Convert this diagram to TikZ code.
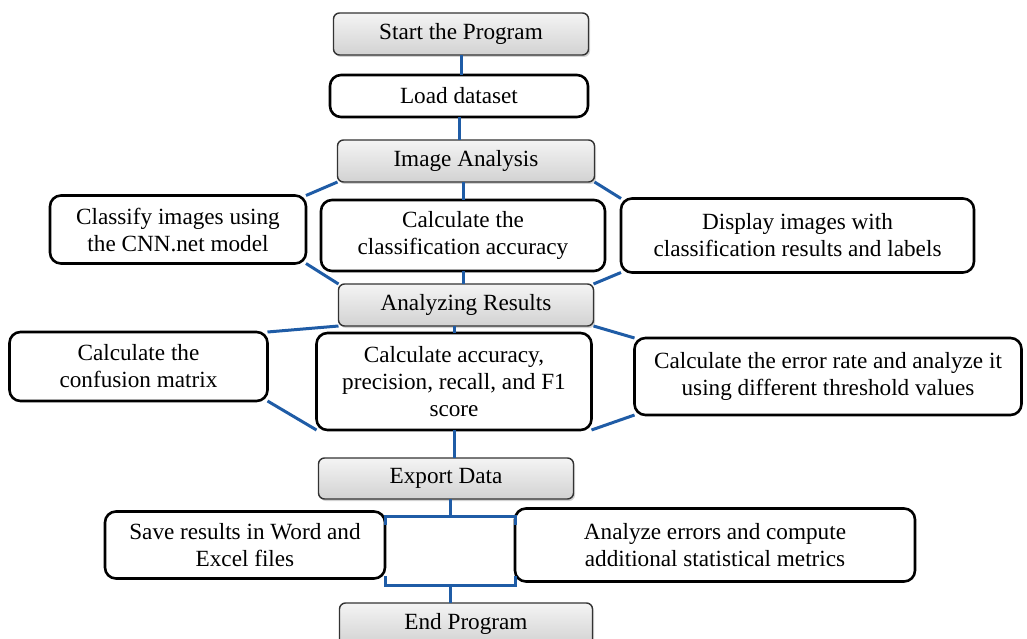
\documentclass[tikz,border=0pt]{standalone}
\usepackage{fontspec}
\setmainfont{Liberation Serif}
\usetikzlibrary{positioning,shadows}
\definecolor{linkblue}{HTML}{1F5CA6}
\definecolor{boxgray}{HTML}{D2D2D2}
\definecolor{topgray}{HTML}{F4F4F4}

\begin{document}
\begin{tikzpicture}[node distance=20pt and 15pt,font=\fontsize{23.2}{27}\selectfont]
\tikzset{box/.style={draw=black,line width=2.6pt,rounded corners=11pt,fill=white,align=center,inner sep=2pt,outer sep=0pt},
  gbox/.style={draw=black!80,line width=1.4pt,rounded corners=6pt,top color=topgray,bottom color=boxgray,minimum width=255pt,minimum height=42pt,align=center,outer sep=0pt,drop shadow={shadow xshift=1.5pt,shadow yshift=-2pt,opacity=0.35}},
  link/.style={draw=linkblue,line width=3pt}}
\useasboundingbox (-461pt,34pt) rectangle (566pt,-605pt);
\node[gbox] (start) {Start the Program};
\node[box,below=20pt of start,xshift=-2pt,minimum width=258pt,minimum height=42pt] (load) {Load dataset};
\node[gbox,below=23pt of load,xshift=7pt,minimum width=257pt] (img) {Image Analysis};
\node[box,below=18pt of img,xshift=-3pt,minimum width=284pt,minimum height=71pt] (calc) {Calculate the\\classification accuracy};
\node[box,left=15pt of calc,yshift=6pt,minimum width=256pt,minimum height=68pt] (classify) {Classify images using\\the CNN.net model};
\node[box,right=16pt of calc,minimum width=353pt,minimum height=74pt] (display) {Display images with\\classification results and labels};
\node[gbox,below=13pt of calc,xshift=3pt] (ares) {Analyzing Results};
\node[box,below=7pt of ares,xshift=-12pt,minimum width=275pt,minimum height=97pt] (acc) {Calculate accuracy,\\precision, recall, and F1\\score};
\node[box,left=49pt of acc,yshift=15pt,minimum width=258pt,minimum height=69pt] (conf) {Calculate the\\confusion matrix};
\node[box,right=43pt of acc,yshift=5pt,minimum width=387pt,minimum height=77pt] (err) {Calculate the error rate and analyze it\\using different threshold values};
\node[gbox,below=28pt of acc,xshift=-8pt,minimum height=41pt] (export) {Export Data};
\coordinate[below=46pt of export,xshift=4pt] (mid);
\coordinate[above=29pt of mid] (jt);
\coordinate[below=40pt of mid] (jb);
\node[box,left=65pt of mid,minimum width=280pt,minimum height=67pt] (save) {Save results in Word and\\Excel files};
\node[box,right=65pt of mid,minimum width=400pt,minimum height=73pt] (analyze) {Analyze errors and compute\\additional statistical metrics};
\node[gbox,below=18pt of jb,xshift=16pt,minimum width=253pt] (endp) {End Program};
% main column
\draw[link] (start.south) -- (start.south |- load.north);
\draw[link] (load.south) -- (load.south |- img.north);
\draw[link] (calc.north) -- (calc.north |- img.south);
\draw[link] (calc.south) -- (calc.south |- ares.north);
\draw[link] (acc.north) -- (acc.north |- ares.south);
\draw[link] (acc.south) -- (acc.south |- export.north);
\draw[link] (jt) -- (jt |- export.south);
\draw[link] (jb) -- (jb |- endp.north);
% side branches
\draw[link] (img.south west) -- (classify.north east);
\draw[link] (img.south east) -- (display.north west);
\draw[link] (classify.south east) -- (ares.north west);
\draw[link] (display.south west) -- (ares.north east);
\draw[link] (ares.south west) -- (conf.north east);
\draw[link] (ares.south east) -- (err.north west);
\draw[link] (conf.south east) -- (acc.south west);
\draw[link] (err.south west) -- (acc.south east);
% export bracket
\draw[link] (save.east |- jt) ++(0,-9pt) -- (save.east |- jt) -- (analyze.west |- jt) -- ++(0,-9pt);
\draw[link] (save.east |- jb) ++(0,9pt) -- (save.east |- jb) -- (analyze.west |- jb) -- ++(0,9pt);
\end{tikzpicture}
\end{document}
